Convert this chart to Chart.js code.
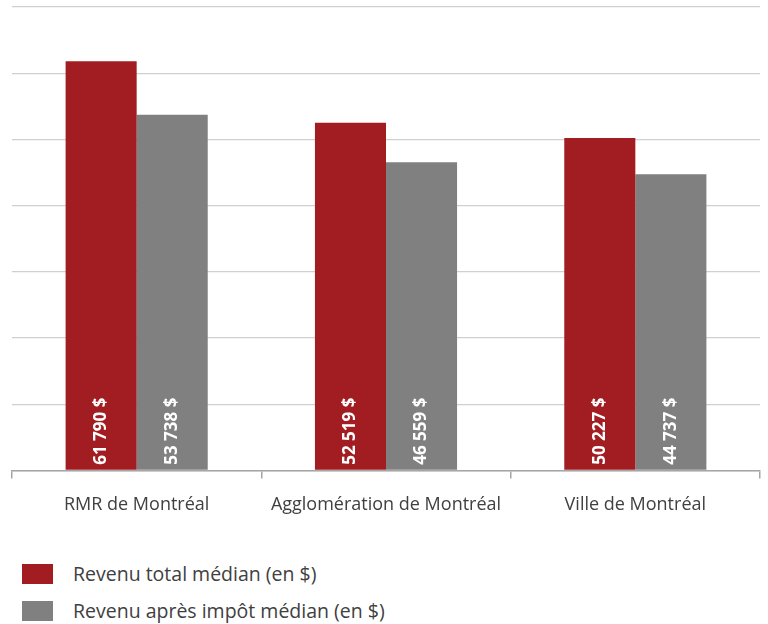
<!DOCTYPE html>
<html>
<head>
<meta charset="utf-8">
<script src="https://cdn.jsdelivr.net/npm/chart.js@4"></script>
<style>
  body { margin: 0; background: #fff; font-family: "Open Sans", sans-serif; }
  #wrap { position: relative; width: 768px; height: 624px; }
  #legend { position: absolute; left: 22px; top: 555px; }
  .item { display: flex; align-items: center; height: 37px; font-size: 19.5px; color: #404040; }
  .box { width: 31px; height: 20px; margin-right: 20px; }
</style>
</head>
<body>
<div id="wrap">
  <canvas id="chart" width="768" height="532"></canvas>
  <div id="legend"></div>
</div>
<script>
const categories = ["RMR de Montréal", "Agglomération de Montréal", "Ville de Montréal"];
const revenuTotal = [61790, 52519, 50227];
const revenuApresImpot = [53738, 46559, 44737];
const seriesNames = ["Revenu total médian (en $)", "Revenu après impôt médian (en $)"];
const colors = ["#a21d21", "#808080"];

function fmt(v) {
  return v.toString().replace(/\B(?=(\d{3})+(?!\d))/g, " ") + " $";
}

// labels written vertically at the foot of each bar
const barLabels = {
  id: "barLabels",
  afterDatasetsDraw(chart) {
    const ctx = chart.ctx;
    ctx.save();
    ctx.font = 'bold 17px "Open Sans", sans-serif';
    ctx.fillStyle = "#fff";
    ctx.textAlign = "left";
    ctx.textBaseline = "middle";
    chart.data.datasets.forEach((ds, i) => {
      chart.getDatasetMeta(i).data.forEach((bar, j) => {
        ctx.save();
        ctx.translate(bar.x, bar.base - 5);
        ctx.rotate(-Math.PI / 2);
        ctx.fillText(fmt(ds.data[j]), 0, 0);
        ctx.restore();
      });
    });
    ctx.restore();
  }
};

new Chart(document.getElementById("chart"), {
  type: "bar",
  data: {
    labels: categories,
    datasets: [
      { label: seriesNames[0], data: revenuTotal, backgroundColor: colors[0] },
      { label: seriesNames[1], data: revenuApresImpot, backgroundColor: colors[1] }
    ]
  },
  options: {
    responsive: false,
    animation: false,
    layout: { padding: { left: 12, right: 8, top: 7, bottom: 0 } },
    categoryPercentage: 0.57,
    barPercentage: 1,
    plugins: {
      legend: { display: false },
      tooltip: { enabled: false }
    },
    scales: {
      x: {
        grid: { display: true, drawOnChartArea: false, tickLength: 8, color: "#a6a6a6", lineWidth: 1.5 },
        border: { display: true, color: "#a6a6a6", width: 1.5 },
        ticks: { color: "#404040", font: { family: "Open Sans", size: 18 }, padding: 16 }
      },
      y: {
        min: 0,
        max: 70000,
        ticks: { display: false, stepSize: 10000 },
        grid: { color: "#d0d0d0", lineWidth: 1.2, drawTicks: false },
        border: { display: false }
      }
    }
  },
  plugins: [barLabels]
});

const legend = document.getElementById("legend");
seriesNames.forEach((name, i) => {
  const item = document.createElement("div");
  item.className = "item";
  item.innerHTML = '<div class="box" style="background:' + colors[i] + '"></div>' + name;
  legend.appendChild(item);
});
</script>
</body>
</html>
